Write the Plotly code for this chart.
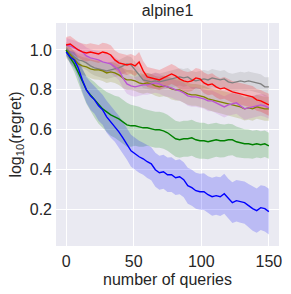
import plotly.graph_objects as go

queries = list(range(0, 151, 3))

blue_mean = [0.99, 0.965, 0.95, 0.91, 0.85, 0.80, 0.77, 0.75, 0.72, 0.70, 0.665, 0.64, 0.62, 0.59, 0.56,
             0.53, 0.495, 0.48, 0.465, 0.455, 0.44, 0.43, 0.40, 0.385, 0.39, 0.375, 0.375, 0.36, 0.365,
             0.35, 0.32, 0.31, 0.295, 0.29, 0.29, 0.275, 0.265, 0.27, 0.265, 0.28, 0.255, 0.235, 0.245,
             0.24, 0.235, 0.22, 0.205, 0.195, 0.21, 0.205, 0.19]
blue_sd = [0.02, 0.03, 0.04, 0.05, 0.06, 0.065, 0.07, 0.07, 0.075, 0.075, 0.08, 0.08, 0.08, 0.08, 0.08,
           0.08, 0.08, 0.08, 0.08, 0.08, 0.082, 0.083, 0.085, 0.085, 0.085, 0.086, 0.087, 0.087, 0.088,
           0.088, 0.09, 0.09, 0.09, 0.09, 0.092, 0.093, 0.095, 0.096, 0.097, 0.1, 0.1, 0.102, 0.104,
           0.105, 0.106, 0.108, 0.11, 0.111, 0.112, 0.114, 0.115]

green_mean = [1.0, 0.96, 0.93, 0.885, 0.84, 0.80, 0.775, 0.75, 0.725, 0.705, 0.69, 0.675, 0.665, 0.655, 0.64,
              0.625, 0.62, 0.62, 0.615, 0.61, 0.61, 0.605, 0.60, 0.60, 0.595, 0.585, 0.57, 0.555, 0.55,
              0.555, 0.555, 0.56, 0.55, 0.545, 0.545, 0.54, 0.545, 0.55, 0.545, 0.545, 0.55, 0.55, 0.54,
              0.535, 0.53, 0.53, 0.525, 0.53, 0.525, 0.53, 0.52]
green_sd = [0.02, 0.03, 0.04, 0.05, 0.06, 0.07, 0.08, 0.09, 0.095, 0.1, 0.1, 0.105, 0.105, 0.11, 0.11,
            0.11, 0.105, 0.1, 0.1, 0.095, 0.09, 0.09, 0.09, 0.09, 0.09, 0.09, 0.09, 0.09, 0.09,
            0.09, 0.09, 0.09, 0.09, 0.09, 0.09, 0.088, 0.087, 0.085, 0.084, 0.082, 0.08, 0.078, 0.077,
            0.075, 0.073, 0.072, 0.07, 0.069, 0.068, 0.066, 0.065]

red_mean = [1.025, 1.03, 1.015, 1.0, 0.99, 0.985, 0.99, 0.985, 0.98, 0.99, 0.985, 0.975, 0.95, 0.935, 0.93,
            0.925, 0.93, 0.92, 0.94, 0.895, 0.865, 0.86, 0.855, 0.85, 0.86, 0.87, 0.88, 0.87, 0.855,
            0.845, 0.84, 0.845, 0.86, 0.855, 0.835, 0.825, 0.83, 0.815, 0.805, 0.81, 0.80, 0.79, 0.785,
            0.78, 0.775, 0.77, 0.765, 0.75, 0.745, 0.735, 0.725]
red_sd = [0.04, 0.04, 0.04, 0.04, 0.042, 0.043, 0.044, 0.045, 0.045, 0.046, 0.047, 0.048, 0.048, 0.05, 0.05,
          0.05, 0.05, 0.05, 0.05, 0.05, 0.05, 0.05, 0.05, 0.05, 0.05, 0.05, 0.05, 0.05, 0.05,
          0.05, 0.05, 0.05, 0.05, 0.05, 0.052, 0.052, 0.053, 0.053, 0.053, 0.054, 0.054, 0.054, 0.055,
          0.055, 0.055, 0.055, 0.055, 0.055, 0.055, 0.055, 0.055]

gray_mean = [1.0, 0.98, 0.965, 0.95, 0.945, 0.935, 0.92, 0.91, 0.905, 0.90, 0.895, 0.90, 0.905, 0.91, 0.92,
             0.93, 0.925, 0.90, 0.87, 0.85, 0.845, 0.84, 0.845, 0.84, 0.845, 0.85, 0.855, 0.86, 0.865,
             0.86, 0.865, 0.85, 0.845, 0.85, 0.855, 0.85, 0.86, 0.855, 0.85, 0.855, 0.84, 0.835, 0.84,
             0.845, 0.84, 0.845, 0.84, 0.835, 0.83, 0.815, 0.815]
gray_sd = [0.03, 0.03, 0.032, 0.034, 0.035, 0.036, 0.037, 0.038, 0.039, 0.04, 0.04, 0.04, 0.04, 0.04, 0.04,
           0.04, 0.04, 0.04, 0.04, 0.04, 0.04, 0.04, 0.042, 0.042, 0.042, 0.042, 0.043, 0.043, 0.043,
           0.044, 0.044, 0.044, 0.044, 0.045, 0.045, 0.045, 0.045, 0.045, 0.045, 0.045, 0.046, 0.046, 0.046,
           0.046, 0.047, 0.047, 0.047, 0.048, 0.048, 0.048, 0.048]

olive_mean = [1.0, 0.975, 0.95, 0.93, 0.92, 0.915, 0.905, 0.90, 0.90, 0.895, 0.885, 0.89, 0.885, 0.875, 0.86,
              0.85, 0.85, 0.845, 0.835, 0.83, 0.835, 0.83, 0.82, 0.815, 0.82, 0.815, 0.805, 0.80, 0.80,
              0.79, 0.78, 0.775, 0.775, 0.77, 0.765, 0.755, 0.75, 0.745, 0.74, 0.735, 0.73, 0.725, 0.72,
              0.715, 0.705, 0.71, 0.705, 0.715, 0.71, 0.705, 0.705]
olive_sd = [0.04, 0.04, 0.042, 0.044, 0.045, 0.046, 0.047, 0.048, 0.049, 0.05, 0.05, 0.05, 0.05, 0.05, 0.05,
            0.05, 0.05, 0.05, 0.05, 0.05, 0.05, 0.05, 0.05, 0.051, 0.052, 0.052, 0.053, 0.053, 0.054,
            0.054, 0.055, 0.055, 0.055, 0.056, 0.056, 0.056, 0.057, 0.057, 0.057, 0.058, 0.058, 0.058, 0.059,
            0.059, 0.059, 0.06, 0.06, 0.06, 0.06, 0.06, 0.06]

purple_mean = [1.025, 1.02, 1.01, 1.0, 0.99, 0.97, 0.96, 0.955, 0.95, 0.94, 0.935, 0.93, 0.915, 0.90, 0.86,
               0.83, 0.82, 0.815, 0.82, 0.825, 0.825, 0.83, 0.835, 0.83, 0.82, 0.815, 0.81, 0.80, 0.795,
               0.785, 0.77, 0.765, 0.765, 0.76, 0.755, 0.745, 0.745, 0.735, 0.725, 0.715, 0.725, 0.73, 0.735,
               0.72, 0.705, 0.71, 0.715, 0.72, 0.725, 0.72, 0.71]
purple_sd = [0.035, 0.035, 0.037, 0.038, 0.04, 0.042, 0.043, 0.044, 0.045, 0.046, 0.047, 0.048, 0.048, 0.05, 0.05,
             0.05, 0.05, 0.05, 0.05, 0.05, 0.05, 0.05, 0.05, 0.05, 0.05, 0.05, 0.05, 0.05, 0.05,
             0.05, 0.05, 0.05, 0.05, 0.05, 0.05, 0.052, 0.052, 0.052, 0.053, 0.053, 0.053, 0.054, 0.054,
             0.054, 0.055, 0.055, 0.055, 0.055, 0.055, 0.055, 0.055]

x_ticks = [0, 50, 100, 150]
y_ticks = [0.2, 0.4, 0.6, 0.8, 1.0]

series = [
    (gray_mean, gray_sd, "#808080", "rgba(128,128,128,0.2)"),
    (olive_mean, olive_sd, "#808000", "rgba(128,128,0,0.2)"),
    (purple_mean, purple_sd, "#ba55d3", "rgba(186,85,211,0.2)"),
    (red_mean, red_sd, "#ff0000", "rgba(255,0,0,0.2)"),
    (green_mean, green_sd, "#008000", "rgba(0,128,0,0.2)"),
    (blue_mean, blue_sd, "#0000ff", "rgba(0,0,255,0.2)"),
]

fig = go.Figure()
for mean, sd, col, fillcol in series:
    upper = [m + s for m, s in zip(mean, sd)]
    lower = [m - s for m, s in zip(mean, sd)]
    fig.add_trace(go.Scatter(
        x=queries + queries[::-1], y=upper + lower[::-1],
        fill="toself", fillcolor=fillcol, line=dict(width=0),
        mode="lines", hoverinfo="skip", showlegend=False))
for mean, sd, col, fillcol in series:
    fig.add_trace(go.Scatter(
        x=queries, y=mean, mode="lines",
        line=dict(color=col, width=1.4), showlegend=False))

font_family = "Liberation Sans, Arial, sans-serif"
fig.update_layout(
    width=291, height=294,
    margin=dict(l=56, r=9, t=23, b=47),
    paper_bgcolor="white",
    plot_bgcolor="#EAEAF2",
    font=dict(family=font_family, color="#262626", size=16),
    title=dict(text="alpine1", x=0.5, xanchor="center", xref="paper",
               y=1, yref="container", yanchor="top", pad=dict(t=5),
               font=dict(size=16, color="#262626")),
)
fig.update_xaxes(
    range=[-7.5, 157.5], tickvals=x_ticks, ticktext=[str(v) for v in x_ticks],
    showgrid=True, gridcolor="white", gridwidth=1.3, zeroline=False,
    showline=False, ticks="", tickfont=dict(size=16), ticklabelstandoff=4,
    title=dict(text="number of queries", font=dict(size=16), standoff=4),
)
fig.update_yaxes(
    range=[0.018, 1.135], tickvals=y_ticks, ticktext=["%.1f" % v for v in y_ticks],
    showgrid=True, gridcolor="white", gridwidth=1.3, zeroline=False,
    showline=False, ticks="", tickfont=dict(size=16), ticklabelstandoff=3,
    title=dict(text="log<sub>10</sub>(regret)", font=dict(size=16), standoff=4),
)

fig.write_html(
    "out.html",
    config={"displayModeBar": False},
    post_script="document.body.style.margin='0';document.body.style.overflow='hidden';",
)
